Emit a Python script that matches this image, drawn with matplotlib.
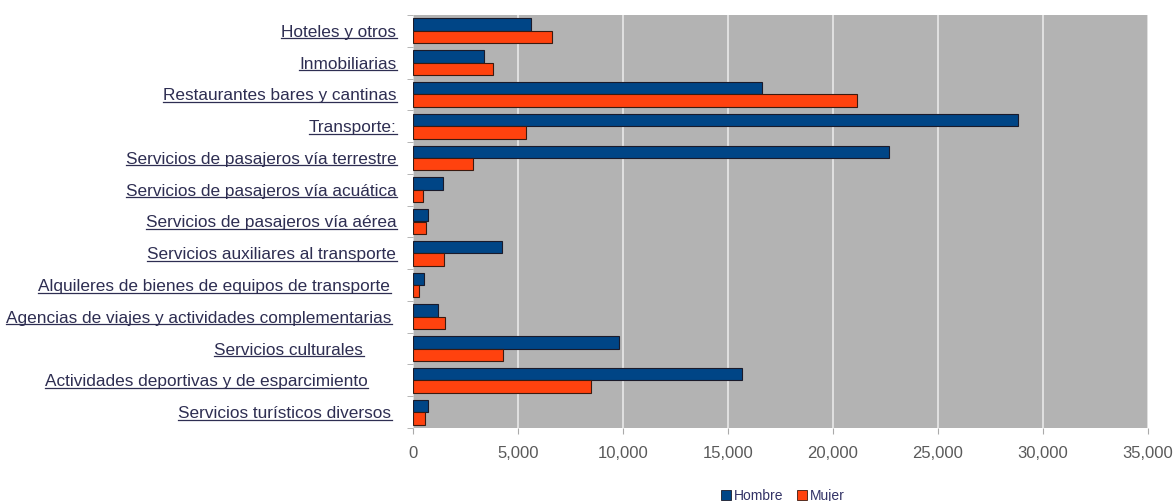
import matplotlib
matplotlib.use("Agg")
import matplotlib.pyplot as plt
import matplotlib.transforms as mtransforms
import numpy as np
from matplotlib.lines import Line2D
from matplotlib.patches import Patch

categories = [
    "Hoteles y otros",
    "Inmobiliarias",
    "Restaurantes bares y cantinas",
    "Transporte:",
    "Servicios de pasajeros vía terrestre",
    "Servicios de pasajeros vía acuática",
    "Servicios de pasajeros vía aérea",
    "Servicios auxiliares al transporte",
    "Alquileres de bienes de equipos de transporte",
    "Agencias de viajes y actividades complementarias",
    "Servicios culturales",
    "Actividades deportivas y de esparcimiento",
    "Servicios turísticos diversos",
]
hombre = [5600, 3400, 16620, 28810, 22650, 1410, 710, 4220, 540, 1175, 9810, 15650, 710]
mujer = [6600, 3800, 21130, 5380, 2840, 480, 620, 1490, 270, 1540, 4300, 8490, 590]
xticks = [0, 5000, 10000, 15000, 20000, 25000, 30000, 35000]
xticklabels = ["0", "5,000", "10,000", "15,000", "20,000", "25,000", "30,000", "35,000"]

C_H = "#004586"
C_M = "#ff420e"
TXT = "#2e2e52"

plt.rcParams["font.family"] = ["Liberation Sans", "DejaVu Sans"]

fig = plt.figure(figsize=(11.74, 5.01), dpi=100)
ax = fig.add_axes([413 / 1174, 1 - 428 / 501, (1148 - 413) / 1174, (428 - 15) / 501])
ax.set_facecolor("#b3b3b3")

n = len(categories)
y = np.arange(n)
h = 0.39
ax.barh(y - h / 2, hombre, height=h, color=C_H, edgecolor="#1a1a2a", linewidth=0.8, zorder=3)
ax.barh(y + h / 2, mujer, height=h, color=C_M, edgecolor="#3a1a10", linewidth=0.8, zorder=3)

ax.set_xlim(0, 35000)
ax.set_ylim(n - 0.5, -0.5)
ax.set_xticks(xticks)
ax.set_xticklabels(xticklabels, fontsize=12, color="#5a5a5a")
ax.tick_params(axis="x", length=4, color="#aaaaaa", pad=9)
ax.grid(axis="x", color="#e8e8e8", linewidth=1.2, zorder=1)
ax.set_axisbelow(True)

ax.set_yticks(y)
ax.set_yticklabels(categories, fontsize=12.4, color=TXT)
ax.set_yticks(np.arange(n + 1) - 0.5, minor=True)
ax.tick_params(axis="y", which="major", length=0, pad=12)
ax.tick_params(axis="y", which="minor", length=4, color="#aaaaaa")
for s in ax.spines.values():
    s.set_visible(False)

# extra horizontal shift (pixels) of some labels, as in the reference
shift_px = {8: -6, 9: -5, 10: -33, 11: -29, 12: -5}
for i, lab in enumerate(ax.get_yticklabels()):
    if i in shift_px:
        lab.set_transform(lab.get_transform() + mtransforms.ScaledTranslation(
            shift_px[i] / 100, 0, fig.dpi_scale_trans))

# underline labels
fig.canvas.draw()
renderer = fig.canvas.get_renderer()
inv = fig.transFigure.inverted()
for lab in ax.get_yticklabels():
    bb = lab.get_window_extent(renderer)
    (x0, y0), (x1, y1) = inv.transform([[bb.x0, bb.y0 + 1.5], [bb.x1 + 1, bb.y1]])
    fig.add_artist(Line2D([x0, x1], [y0, y0], transform=fig.transFigure,
                          color=TXT, linewidth=0.9))

handles = [Patch(facecolor=C_H, edgecolor="#1a1a2a", linewidth=0.6, label="Hombre"),
           Patch(facecolor=C_M, edgecolor="#3a1a10", linewidth=0.6, label="Mujer")]
fig.legend(handles=handles, loc="center", bbox_to_anchor=(783 / 1174, 1 - 496 / 501),
           ncol=2, frameon=False, fontsize=10, handlelength=0.7, handleheight=0.7,
           handletextpad=0.2, columnspacing=1.0, labelcolor="#333366",
           borderpad=0, borderaxespad=0)

fig.savefig("out.png", dpi=100)
